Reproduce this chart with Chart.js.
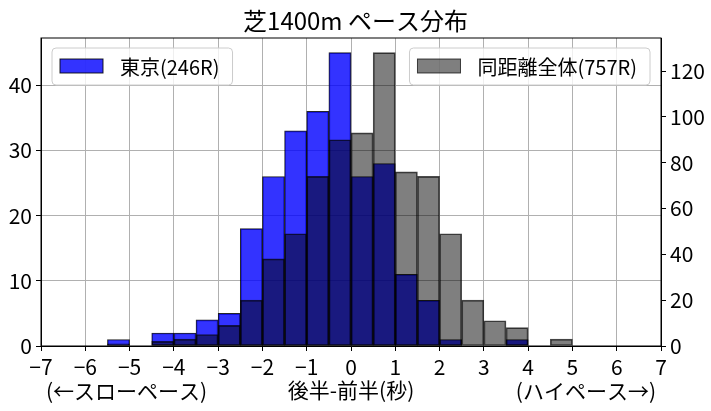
<!DOCTYPE html>
<html>
<head>
<meta charset="utf-8">
<script src="https://cdn.jsdelivr.net/npm/chart.js@4/dist/chart.umd.min.js"></script>
<style>
html, body { margin: 0; padding: 0; background: #fff; }
</style>
</head>
<body>
<canvas id="pace" width="711" height="411"></canvas>
<script>
// histogram bins (lower edges), 0.5 sec wide
const binWidth = 0.5;
const binStarts = [-7, -6.5, -6, -5.5, -5, -4.5, -4, -3.5, -3, -2.5, -2, -1.5, -1, -0.5,
                   0, 0.5, 1, 1.5, 2, 2.5, 3, 3.5, 4, 4.5, 5, 5.5, 6, 6.5];
const tokyoCounts = [0, 0, 0, 1, 0, 2, 2, 4, 5, 18, 26, 33, 36, 45,
                     26, 28, 11, 7, 1, 0, 0, 1, 0, 0, 0, 0, 0, 0];
const allCounts = [0, 0, 0, 1, 0, 2, 3, 5, 9, 20, 38, 49, 74, 90,
                   93, 128, 76, 74, 49, 20, 11, 8, 0, 3, 0, 0, 0, 0];
const xTicks = [-7, -6, -5, -4, -3, -2, -1, 0, 1, 2, 3, 4, 5, 6, 7];
const leftTicks = [0, 10, 20, 30, 40];
const rightTicks = [0, 20, 40, 60, 80, 100, 120];

const tokyoLabel = '東京(246R)';
const allLabel = '同距離全体(757R)';
const titleText = '芝1400m ペース分布';
const xTitle = '後半-前半(秒)';
const slowText = '(←スローペース)';
const highText = '(ハイペース→)';

const FONT = "'Liberation Sans Narrow', 'Noto Sans CJK JP', sans-serif";
const BLUE = 'rgba(0,0,255,0.8)';
const BLUE_EDGE = 'rgba(0,0,0,0.85)';
const GRAY = 'rgba(0,0,0,0.5)';
const GRAY_EDGE = 'rgba(0,0,0,0.7)';

Chart.defaults.font.family = FONT;
Chart.defaults.font.size = 21;
Chart.defaults.color = '#000';

const toPoints = counts => counts.map((c, i) => ({x: binStarts[i] + binWidth / 2, y: c}));
const minus = v => String(v).replace('-', '\u2212');

function drawLegend(ctx, x, y, label, fill, edge) {
    ctx.font = '20px ' + FONT;
    const w = 68 + ctx.measureText(label).width + 13;
    const h = 37;
    ctx.beginPath();
    ctx.roundRect(x, y, w, h, 4);
    ctx.fillStyle = 'rgba(255,255,255,0.8)';
    ctx.fill();
    ctx.strokeStyle = '#cccccc';
    ctx.lineWidth = 1;
    ctx.stroke();
    ctx.fillStyle = fill;
    ctx.fillRect(x + 8, y + 11, 43, 14);
    ctx.strokeStyle = edge;
    ctx.strokeRect(x + 8, y + 11, 43, 14);
    ctx.fillStyle = '#000';
    ctx.textBaseline = 'middle';
    ctx.textAlign = 'left';
    ctx.fillText(label, x + 68, y + h / 2 + 1);
    return w;
}

const extras = {
    id: 'extras',
    afterDraw(chart) {
        const {ctx, chartArea: a} = chart;
        ctx.save();
        ctx.strokeStyle = '#000';
        ctx.lineWidth = 1;
        ctx.strokeRect(a.left, a.top, a.right - a.left, a.bottom - a.top);

        drawLegend(ctx, a.left + 11, a.top + 10, tokyoLabel, BLUE, BLUE_EDGE);
        ctx.font = '20px ' + FONT;
        const w2 = 68 + ctx.measureText(allLabel).width + 13;
        drawLegend(ctx, a.right - 11 - w2, a.top + 10, allLabel, GRAY, GRAY_EDGE);

        ctx.font = '21px ' + FONT;
        ctx.fillStyle = '#000';
        ctx.textBaseline = 'middle';
        const ty = chart.scales.x.bottom - 20;
        ctx.textAlign = 'left';
        ctx.fillText(slowText, a.left + 5, ty);
        ctx.textAlign = 'right';
        ctx.fillText(highText, a.right - 5, ty);
        ctx.restore();
    }
};

new Chart(document.getElementById('pace'), {
    type: 'bar',
    data: {
        datasets: [{
            label: tokyoLabel,
            data: toPoints(tokyoCounts),
            yAxisID: 'y',
            backgroundColor: BLUE,
            borderColor: BLUE_EDGE,
            borderWidth: 1,
            borderSkipped: false,
            order: 1
        }, {
            label: allLabel,
            data: toPoints(allCounts),
            yAxisID: 'y1',
            backgroundColor: GRAY,
            borderColor: GRAY_EDGE,
            borderWidth: 1,
            borderSkipped: false,
            order: 0
        }]
    },
    options: {
        responsive: false,
        animation: false,
        grouped: false,
        barPercentage: 1,
        categoryPercentage: 1,
        layout: {padding: 0},
        plugins: {
            legend: {display: false},
            tooltip: {enabled: false},
            title: {
                display: true,
                text: titleText,
                font: {size: 24, weight: 'normal'},
                color: '#000',
                padding: {top: 6, bottom: 3.2}
            }
        },
        scales: {
            x: {
                type: 'linear',
                min: -7,
                max: 7,
                offset: false,
                afterBuildTicks: s => { s.ticks = xTicks.map(v => ({value: v})); },
                afterFit: s => { s.height = 65; },
                ticks: {callback: v => minus(v), padding: 3, maxRotation: 0},
                grid: {color: '#b0b0b0', tickColor: '#000', tickLength: 5, offset: false},
                border: {color: '#000'},
                title: {display: true, text: xTitle, padding: {top: 0, bottom: 8}}
            },
            y: {
                position: 'left',
                min: 0,
                max: Math.max(...tokyoCounts) * 1.05,
                afterBuildTicks: s => { s.ticks = leftTicks.map(v => ({value: v})); },
                afterFit: s => { s.width = 41; },
                ticks: {padding: 4},
                grid: {color: '#b0b0b0', tickColor: '#000', tickLength: 5},
                border: {color: '#000'}
            },
            y1: {
                position: 'right',
                min: 0,
                max: Math.max(...allCounts) * 1.05,
                afterBuildTicks: s => { s.ticks = rightTicks.map(v => ({value: v})); },
                afterFit: s => { s.width = 50; },
                ticks: {padding: 4},
                grid: {drawOnChartArea: false, tickColor: '#000', tickLength: 5},
                border: {color: '#000'}
            }
        }
    },
    plugins: [extras]
});
</script>
</body>
</html>
